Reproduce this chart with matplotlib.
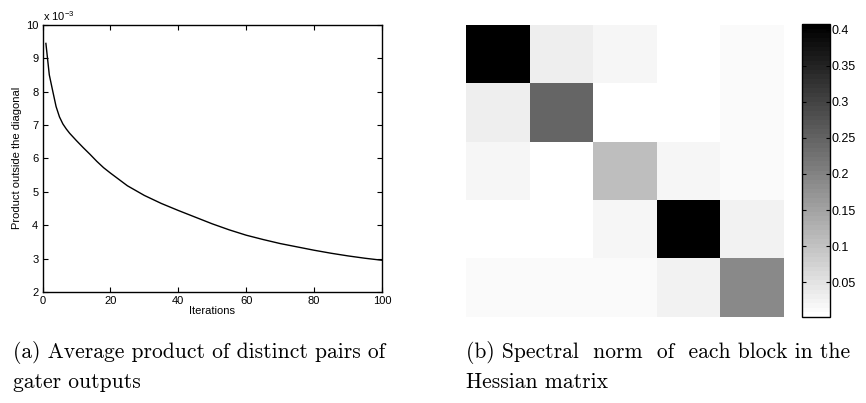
import matplotlib
matplotlib.use("Agg")
import matplotlib.pyplot as plt
import numpy as np

plt.rcParams['font.family'] = ['Liberation Sans', 'DejaVu Sans']
plt.rcParams['mathtext.fontset'] = 'custom'
plt.rcParams['mathtext.rm'] = 'Liberation Sans'
plt.rcParams['mathtext.it'] = 'Liberation Sans'

# ---- data: (a) average product outside the diagonal (units of 1e-3)
iterations = [1, 2, 3, 4, 5, 6, 7, 8, 10, 12, 14, 16, 18, 20, 25, 30, 35, 40,
              45, 50, 55, 60, 65, 70, 75, 80, 85, 90, 95, 100]
product_e3 = [9.44, 8.50, 8.02, 7.55, 7.24, 7.03, 6.88, 6.75, 6.53, 6.32, 6.12,
              5.91, 5.72, 5.56, 5.18, 4.89, 4.65, 4.44, 4.24, 4.04, 3.86, 3.70,
              3.57, 3.45, 3.35, 3.25, 3.16, 3.08, 3.01, 2.95]
x_ticks = [0, 20, 40, 60, 80, 100]
y_ticks = [2, 3, 4, 5, 6, 7, 8, 9, 10]

# ---- data: (b) spectral norm of each block of the Hessian
row0 = [0.408, 0.030, 0.018, 0.002, 0.010]
row1 = [0.031, 0.245, 0.002, 0.002, 0.010]
row2 = [0.020, 0.002, 0.105, 0.018, 0.009]
row3 = [0.002, 0.002, 0.018, 0.408, 0.025]
row4 = [0.010, 0.010, 0.010, 0.025, 0.188]
norm_matrix = np.array([row0, row1, row2, row3, row4])
cbar_ticks = [0.05, 0.1, 0.15, 0.2, 0.25, 0.3, 0.35, 0.4]
cbar_labels = ['0.05', '0.1', '0.15', '0.2', '0.25', '0.3', '0.35', '0.4']
cmin, cmax = 0.0017, 0.408

W, H = 866, 403
fig = plt.figure(figsize=(W / 100, H / 100), dpi=100)

def rect(l, t, r, b):
    return [l / W, 1 - b / H, (r - l) / W, (b - t) / H]

# ---------------- (a)
ax1 = fig.add_axes(rect(42.5, 24.7, 382, 292))
ax1.plot(iterations, product_e3, color='black', lw=1.0)
ax1.set_xlim(0, 100)
ax1.set_ylim(2, 10)
ax1.set_xticks(x_ticks)
ax1.set_yticks(y_ticks)
ax1.tick_params(direction='in', length=3.5, width=0.8, labelsize=8,
                top=True, right=True, pad=3)
for s in ax1.spines.values():
    s.set_linewidth(1.0)
ax1.set_xlabel('Iterations', fontsize=8, labelpad=0)
ax1.set_ylabel('Product outside the diagonal', fontsize=8, labelpad=3)
fig.text(43 / W, 1 - 16 / H, r'x 10$^{-3}$', fontsize=8, va='center', ha='left')

# ---------------- (b)
ax2 = fig.add_axes(rect(466, 25, 783, 317))
cmap = plt.get_cmap('gray_r', 64)
im = ax2.imshow(norm_matrix, cmap=cmap, vmin=cmin, vmax=cmax,
                aspect='auto', interpolation='nearest')
ax2.axis('off')

cax = fig.add_axes(rect(802, 24, 830, 317))
cb = fig.colorbar(im, cax=cax)
cb.set_ticks(cbar_ticks)
cb.set_ticklabels(cbar_labels)
cb.outline.set_linewidth(1.0)
cax.tick_params(direction='in', length=3, width=0.8, labelsize=9,
                left=True, right=True, pad=1)

# ---------------- captions
cap = dict(fontfamily='cmr10', fontsize=15.5, va='center', ha='left')
fig.text(13 / W, 1 - 352 / H, '(a) Average product of distinct pairs of', **cap)
fig.text(13 / W, 1 - 382 / H, 'gater outputs', **cap)
fig.text(466 / W, 1 - 352 / H, '(b) Spectral  norm  of  each block in the', **cap)
fig.text(466 / W, 1 - 382 / H, 'Hessian matrix', **cap)

fig.savefig('out.png', dpi=100)
